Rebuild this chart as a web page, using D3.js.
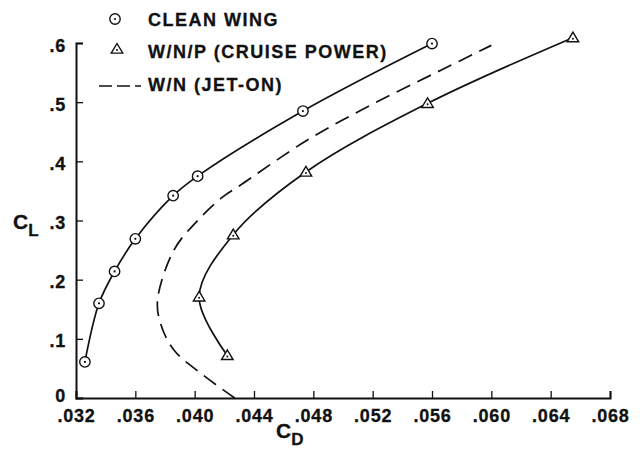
<!DOCTYPE html>
<html>
<head>
<meta charset="utf-8">
<script src="https://cdn.jsdelivr.net/npm/d3@7"></script>
<style>
  html, body { margin: 0; padding: 0; background: #fff; }
  svg { display: block; }
  text { font-family: "Liberation Sans", Arial, Helvetica, sans-serif; font-weight: bold; fill: #111; }
</style>
</head>
<body>
<svg id="chart" width="640" height="456"></svg>
<script>
// Drag coefficient (x) and lift coefficient (y) for each configuration
const cleanCD = [0.0326, 0.03355, 0.0346, 0.0360, 0.03855, 0.0402, 0.0473, 0.0560];
const cleanCL = [0.061, 0.160, 0.214, 0.269, 0.342, 0.375, 0.485, 0.599];

const wnpCD = [0.0422, 0.0403, 0.0426, 0.0475, 0.0557, 0.0655];
const wnpCL = [0.072, 0.171, 0.276, 0.382, 0.498, 0.609];

const jetCD = [0.0427, 0.0404, 0.0386, 0.0377, 0.0375, 0.0386, 0.0402, 0.0419, 0.0431, 0.0476, 0.0521, 0.0566, 0.0600];
const jetCL = [0.0, 0.042, 0.081, 0.126, 0.166, 0.25, 0.30, 0.34, 0.36, 0.436, 0.498, 0.554, 0.596];

const xTicks = [0.032, 0.036, 0.040, 0.044, 0.048, 0.052, 0.056, 0.060, 0.064, 0.068];
const yTicks = [0, 0.1, 0.2, 0.3, 0.4, 0.5, 0.6];

const legendLabels = ["CLEAN WING", "W/N/P (CRUISE POWER)", "W/N (JET-ON)"];

const svg = d3.select("#chart");

const x = d3.scaleLinear().domain([0.032, 0.068]).range([76, 610]);
const y = d3.scaleLinear().domain([0, 0.6]).range([398, 43]);

const fmtX = d => d3.format(".3f")(d).replace(/^0/, "");
const fmtY = d => d === 0 ? "0" : d3.format(".1f")(d).replace(/^0/, "");

// Axes: ticks point inward, no frame
const xAxis = d3.axisBottom(x).tickValues(xTicks).tickSize(-7).tickFormat(fmtX).tickPadding(11);
const yAxis = d3.axisLeft(y).tickValues(yTicks).tickSize(-7).tickFormat(fmtY).tickPadding(10);

const gx = svg.append("g").attr("transform", "translate(0,398)").call(xAxis);
const gy = svg.append("g").attr("transform", "translate(76,0)").call(yAxis);

[gx, gy].forEach(g => {
  g.select(".domain").attr("stroke", "#111").attr("stroke-width", 2);
  g.selectAll(".tick line").attr("stroke", "#111").attr("stroke-width", 1.3);
  g.selectAll(".tick text")
    .attr("font-size", 18)
    .attr("font-family", "Liberation Sans, Arial, sans-serif")
    .attr("font-weight", "bold")
    .attr("fill", "#111")
    .attr("stroke", "#111").attr("stroke-width", 0.3)
    .style("letter-spacing", "0.8px");
});
gx.selectAll(".tick text").attr("dy", "0.72em");
// the zero label sits a little higher so it clears the first CD label
gy.selectAll(".tick text").attr("dy", d => d === 0 ? "0.2em" : "0.45em");

// Axis titles
const cl = svg.append("text").attr("x", 13).attr("y", 229).attr("font-size", 21)
  .attr("stroke", "#111").attr("stroke-width", 0.3);
cl.append("tspan").text("C");
cl.append("tspan").attr("font-size", 17).attr("dy", 7).text("L");

const cd = svg.append("text").attr("x", 276).attr("y", 438).attr("font-size", 21)
  .attr("stroke", "#111").attr("stroke-width", 0.3);
cd.append("tspan").text("C");
cd.append("tspan").attr("font-size", 17).attr("dy", 7).text("D");

// Curves
const line = d3.line()
  .x(d => x(d[0]))
  .y(d => y(d[1]))
  .curve(d3.curveCatmullRom.alpha(0.5));

const cleanPts = cleanCD.map((v, i) => [v, cleanCL[i]]);
const wnpPts = wnpCD.map((v, i) => [v, wnpCL[i]]);
const jetPts = jetCD.map((v, i) => [v, jetCL[i]]);

svg.append("path").datum(jetPts).attr("d", line)
  .attr("fill", "none").attr("stroke", "#111").attr("stroke-width", 1.7)
  .attr("stroke-dasharray", "15,8");

svg.append("path").datum(cleanPts).attr("d", line)
  .attr("fill", "none").attr("stroke", "#111").attr("stroke-width", 1.7);

svg.append("path").datum(wnpPts).attr("d", line)
  .attr("fill", "none").attr("stroke", "#111").attr("stroke-width", 1.7);

// Markers
function circleMarker(g, cx, cy) {
  g.append("circle").attr("cx", cx).attr("cy", cy).attr("r", 5.2)
    .attr("fill", "#fff").attr("stroke", "#111").attr("stroke-width", 1.4);
  g.append("circle").attr("cx", cx).attr("cy", cy).attr("r", 1.1).attr("fill", "#111");
}
function triMarker(g, cx, cy) {
  const s = 5.5;
  g.append("path")
    .attr("d", `M${cx},${cy - s} L${cx + s * 1.05},${cy + s * 0.75} L${cx - s * 1.05},${cy + s * 0.75} Z`)
    .attr("fill", "#fff").attr("stroke", "#111").attr("stroke-width", 1.4);
  g.append("circle").attr("cx", cx).attr("cy", cy + 1).attr("r", 1.0).attr("fill", "#111");
}

const markers = svg.append("g");
cleanPts.forEach(d => circleMarker(markers, x(d[0]), y(d[1])));
wnpPts.forEach(d => triMarker(markers, x(d[0]), y(d[1])));

// Legend
const legend = svg.append("g");
circleMarker(legend, 115, 19);
triMarker(legend, 117, 49);
legend.append("line").attr("x1", 99).attr("x2", 141).attr("y1", 86).attr("y2", 86)
  .attr("stroke", "#111").attr("stroke-width", 1.7).attr("stroke-dasharray", "13,5");

const legendY = [26, 58, 91];
legendLabels.forEach((t, i) => {
  legend.append("text").attr("x", 148).attr("y", legendY[i])
    .attr("font-size", 18).attr("stroke", "#111").attr("stroke-width", 0.3)
    .style("letter-spacing", "1.5px").text(t);
});
</script>
</body>
</html>
